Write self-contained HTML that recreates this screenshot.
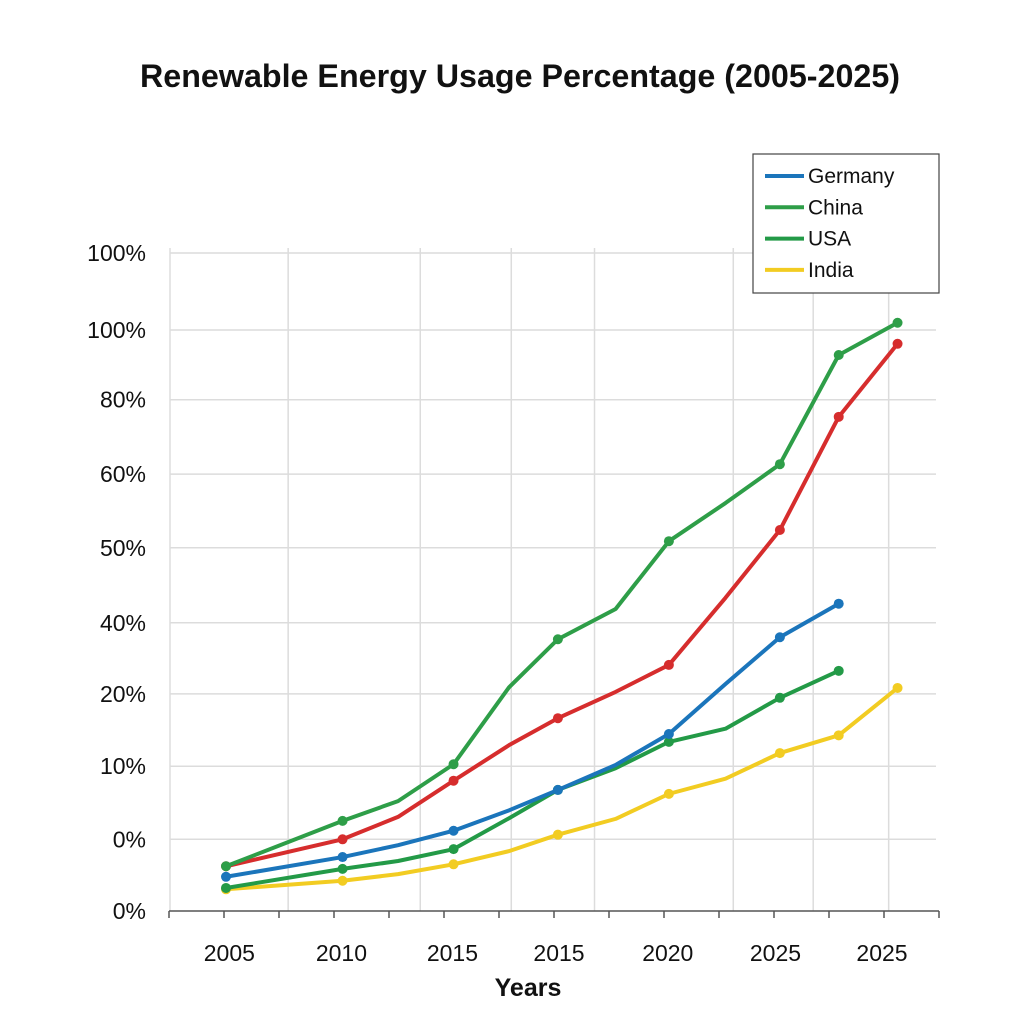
<!DOCTYPE html>
<html><head><meta charset="utf-8">
<style>
body{margin:0;background:#fff;width:1024px;height:1024px;overflow:hidden;font-family:"Liberation Sans",sans-serif}
</style></head>
<body>
<svg id="chart" width="1024" height="1024" xmlns="http://www.w3.org/2000/svg">
<text x="140" y="87" textLength="760" lengthAdjust="spacingAndGlyphs" font-size="32" font-weight="bold" fill="#111">Renewable Energy Usage Percentage (2005-2025)</text>
<text x="528" y="996" text-anchor="middle" font-size="25" font-weight="bold" fill="#111">Years</text>
<g id="grid"></g><g id="axes"></g><g id="series"></g>
<g>
<rect x="753" y="154" width="186" height="139" fill="#fff" stroke="#444" stroke-width="1.2"/>
</g>
<g id="legend"></g>
</svg>
<script>
const xTickLabels=["2005","2010","2015","2015","2020","2025","2025"];
const xTickPos=[0.03,1.04,2.04,3.0,3.98,4.95,5.91];
const yTickLabels=["100%","100%","80%","60%","50%","40%","20%","10%","0%","0%"];
const yTickVals=[100,88.3,77.7,66.4,55.2,43.8,33.0,22.0,10.9,0];
const vGrid=[0.56,1.75,2.57,3.32,4.57,5.29,5.97];
const xT=[0,1.05,1.55,2.05,2.55,2.99,3.51,3.99,4.5,4.99,5.52,6.05];
const chinaVals=[6.8,13.7,16.7,22.3,34.0,41.3,45.9,56.2,62.0,67.9,84.5,89.4];
const redVals=[6.8,10.9,14.3,19.8,25.2,29.3,33.3,37.4,47.6,57.9,75.1,86.2];
const germanyVals=[5.2,8.2,10.0,12.2,15.3,18.4,22.2,26.9,34.5,41.6,46.7];
const usaVals=[3.5,6.4,7.6,9.4,14.1,18.4,21.7,25.7,27.7,32.4,36.5];
const indiaVals=[3.3,4.6,5.6,7.1,9.1,11.6,14.0,17.8,20.1,24.0,26.7,33.9];
const dotIdx=[0,1,3,5,7,9,10,11];
const NS="http://www.w3.org/2000/svg";
const X=t=>226+t*111, Y=v=>911-v*6.58;
function mk(tag,attrs,parent){const e=document.createElementNS(NS,tag);for(const k in attrs)e.setAttribute(k,attrs[k]);document.getElementById(parent).appendChild(e);return e;}
yTickVals.forEach((v,i)=>{
 if(v>0){const l=mk('line',{x1:170,x2:936,y1:Y(v),y2:Y(v),stroke:'#dcdcdc','stroke-width':1.5},'grid');
 
 }
 const t=mk('text',{x:146,y:Y(v)+8,'text-anchor':'end','font-size':23,fill:'#111'},'axes');t.textContent=yTickLabels[i];
 
 
});
vGrid.forEach(g=>{const l=mk('line',{x1:X(g),x2:X(g),y1:248,y2:911,stroke:'#dcdcdc','stroke-width':1.5},'grid');
 
 });
const vl=mk('line',{x1:170,x2:170,y1:248,y2:911,stroke:'#ddd','stroke-width':1.5},'grid');
const ax=mk('line',{x1:169,x2:939,y1:911,y2:911,stroke:'#555','stroke-width':1.5},'axes');


for(let i=0;i<15;i++){const tx=169+i*55;const tk=mk('line',{x1:tx,x2:tx,y1:911,y2:918,stroke:'#555','stroke-width':1.5},'axes');
 
 }
xTickLabels.forEach((s,i)=>{const t=mk('text',{x:X(xTickPos[i]),y:961,'text-anchor':'middle','font-size':23,fill:'#111'},'axes');t.textContent=s;
 
 });
function series(vals,color,name){
 const pts=vals.map((v,i)=>X(xT[i])+','+Y(v)).join(' ');
 const p=mk('polyline',{points:pts,fill:'none',stroke:color,'stroke-width':4,'stroke-linejoin':'round'},'series');
 
 
 dotIdx.forEach(i=>{if(i<vals.length){const c=mk('circle',{cx:X(xT[i]),cy:Y(vals[i]),r:5,fill:color},'series');
 
 }});
}
series(indiaVals,'#f2cc22','india');
series(usaVals,'#239a47','usa');
series(germanyVals,'#1b75bb','germany');
series(redVals,'#d62d2d','red-series');
series(chinaVals,'#2e9e48','china');
const leg=[["Germany","#1b75bb"],["China","#2e9e48"],["USA","#239a47"],["India","#f2cc22"]];
leg.forEach((e,i)=>{const y=176+i*31.3;
 const l=mk('line',{x1:765,x2:804,y1:y,y2:y,stroke:e[1],'stroke-width':4},'legend');
 
 
 const t=mk('text',{x:808,y:y+7,'font-size':21,fill:'#111'},'legend');t.textContent=e[0];
 
 });
</script>
</body></html>
